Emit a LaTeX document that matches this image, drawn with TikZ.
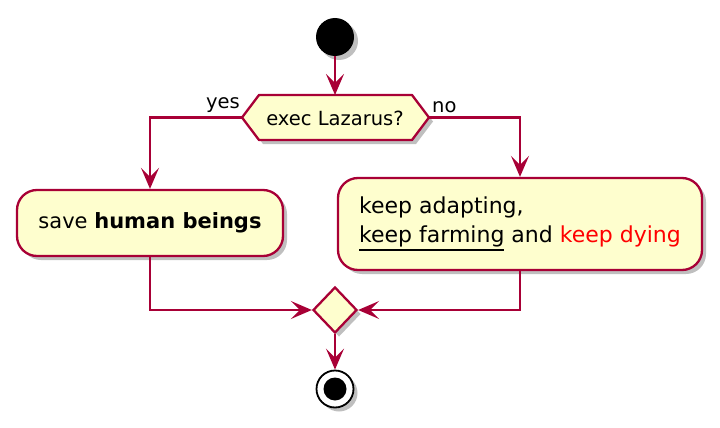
\documentclass[tikz,border=0pt]{standalone}
\usepackage{fontspec}
\setmainfont{DejaVu Sans}
\usetikzlibrary{arrows.meta,shadows,shapes.geometric}
\definecolor{pline}{HTML}{A80036}
\definecolor{pfill}{HTML}{FEFECE}
\newcommand\myul[1]{\leavevmode\vtop{\hbox{#1}\kern2.5pt\hrule height 2pt}}
\begin{document}
\begin{tikzpicture}[x=1pt,y=-1pt,
  shad/.style={drop shadow={shadow xshift=4pt,shadow yshift=-4pt,opacity=0.25,fill=black}},
  act/.style={draw=pline, fill=pfill, line width=2.3pt, rounded corners=20pt, shad, inner sep=0pt},
  flow/.style={draw=pline, line width=2.3pt, -{Stealth[length=21pt,width=18pt,inset=9pt]}},
  lbl/.style={font=\fontsize{19.5}{22}\selectfont, inner sep=0pt}
]
\useasboundingbox (0,0) rectangle (720,428);
% start
\node[circle, fill=black, minimum size=38pt, inner sep=0pt, shad] (start) at (335,37) {};
% decision hexagon
\coordinate (decW) at (242,117.5);
\coordinate (decE) at (429,117.5);
\coordinate (decT) at (335,95);
\path[draw=pline, fill=pfill, line width=2.3pt, line join=round, shad]
  (decW) -- (259,95) -- (412,95) -- (decE) -- (412,140) -- (259,140) -- cycle;
\node[lbl] (dec) at (335,118) {exec Lazarus?};
\node[lbl, anchor=south east] (yes) at (240,113) {yes};
\node[lbl, anchor=south west] (no) at (432,113) {no};
% activities
\node[act, minimum width=266pt, minimum height=66pt, font=\fontsize{21}{24}\selectfont] (save) at (150,223) {save \textbf{human beings}};
\node[act, minimum width=364pt, minimum height=92pt, align=left, font=\fontsize{22}{29}\selectfont] (keep) at (520,224)
  {keep adapting,\\\myul{keep farming} and \textcolor{red}{keep dying}};
% merge
\node[diamond, draw=pline, fill=pfill, line width=2.3pt, minimum width=44pt, minimum height=46pt, inner sep=0pt, shad] (merge) at (335,310) {};
% stop
\node[circle, draw=black, fill=white, line width=1.8pt, minimum size=37pt, inner sep=0pt, shad] (stop) at (335,389) {};
\node[circle, fill=black, minimum size=23pt, inner sep=0pt] (stopdot) at (stop) {};
% connectors
\draw[flow] (start) -- (decT);
\draw[flow] (decW) -| (save.north);
\draw[flow] (decE) -| (keep.north);
\draw[flow] (save.south) |- (merge.west);
\draw[flow] (keep.south) |- (merge.east);
\draw[flow] (merge.south) -- (stop.north);
\end{tikzpicture}
\end{document}
